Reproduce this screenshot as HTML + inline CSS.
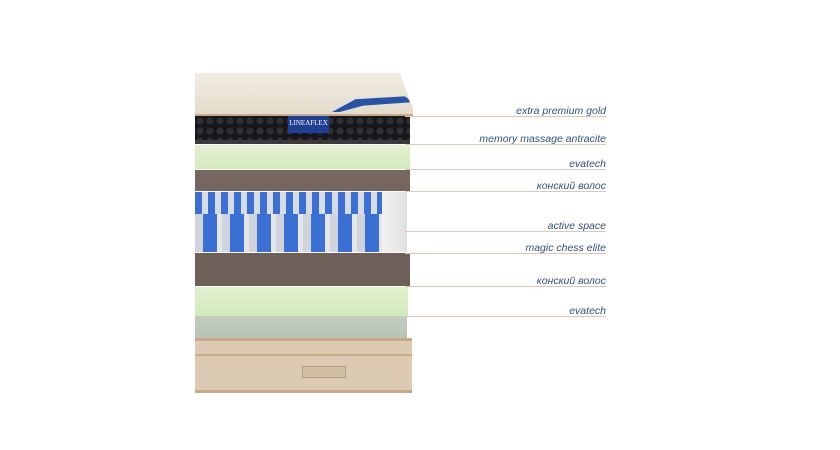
<!DOCTYPE html>
<html><head><style>
body{margin:0;width:840px;height:450px;background:#fff;position:relative;overflow:hidden;font-family:"Liberation Sans",sans-serif}
.a{position:absolute}
.ln{position:absolute;height:1px;background:#dcc8b4;left:405px;width:201px}
.t{position:absolute;right:234px;font-size:10.5px;font-style:italic;color:#34507e;white-space:nowrap}
</style></head><body>
<div class="a" style="left:195px;top:73px;width:218px;height:42px;background:linear-gradient(180deg,#f1ede3,#e3dccc);clip-path:polygon(0 0,94% 0,100% 85%,100% 100%,0 100%)"></div>
<div class="a" style="left:332px;top:96px;width:78px;height:16px;background:#2652a8;border-radius:40px 20px 0 0;clip-path:polygon(0 100%,30% 20%,100% 0,100% 40%,40% 60%,10% 100%)"></div>
<div class="a" style="left:195px;top:114px;width:218px;height:2px;background:#c8a98a"></div>
<div class="a" style="left:195px;top:116px;width:215px;height:28px;background:repeating-radial-gradient(circle at 5px 5px,#2e2e34 0 3px,#17171a 4px 8px);background-size:10px 10px;border-bottom:4px solid #3a3a3e;box-sizing:border-box"></div>
<div class="a" style="left:288px;top:116px;width:41px;height:17px;background:#1f3f95;color:#fff;font:7px 'Liberation Serif',serif;text-align:center;line-height:14px">LINEAFLEX</div>
<div class="a" style="left:195px;top:145px;width:215px;height:24px;background:linear-gradient(180deg,#e4f0d2,#d3e9bc)"></div>
<div class="a" style="left:195px;top:170px;width:215px;height:21px;background:#75675f"></div>
<div class="a" style="left:195px;top:192px;width:187px;height:60px;background:repeating-linear-gradient(90deg,#cfd3dc 0 8px,#3a6fd4 8px 22px,#e4e6ea 22px 27px)"></div>
<div class="a" style="left:195px;top:192px;width:187px;height:22px;background:repeating-linear-gradient(90deg,#3b6fd6 0 7px,#d7dbe3 7px 13px)"></div>
<div class="a" style="left:382px;top:192px;width:25px;height:60px;background:linear-gradient(90deg,#f2f2f2,#e0e0e0)"></div>
<div class="a" style="left:195px;top:253px;width:215px;height:33px;background:#6e6059"></div>
<div class="a" style="left:195px;top:287px;width:213px;height:29px;background:linear-gradient(180deg,#e2f0cf,#d3e9bb)"></div>
<div class="a" style="left:195px;top:316px;width:212px;height:22px;background:linear-gradient(180deg,#c3ccc1,#b8c3b6)"></div>
<div class="a" style="left:195px;top:338px;width:217px;height:55px;background:#dccbb2;border-top:3px solid #c9a988;border-bottom:3px solid #c9a988;box-sizing:border-box"></div>
<div class="a" style="left:195px;top:354px;width:217px;height:2px;background:#c9a988"></div>
<div class="a" style="left:302px;top:366px;width:42px;height:10px;border:1px solid #b59a80;background:#d2bea3"></div>
<div class="ln" style="top:116px"></div><div class="t" style="top:105px">extra premium gold</div>
<div class="ln" style="top:144px"></div><div class="t" style="top:133px">memory massage antracite</div>
<div class="ln" style="top:169px"></div><div class="t" style="top:158px">evatech</div>
<div class="ln" style="top:191px"></div><div class="t" style="top:180px">конский волос</div>
<div class="ln" style="top:231px"></div><div class="t" style="top:220px">active space</div>
<div class="ln" style="top:253px"></div><div class="t" style="top:242px">magic chess elite</div>
<div class="ln" style="top:286px"></div><div class="t" style="top:275px">конский волос</div>
<div class="ln" style="top:316px"></div><div class="t" style="top:305px">evatech</div>
</body></html>
